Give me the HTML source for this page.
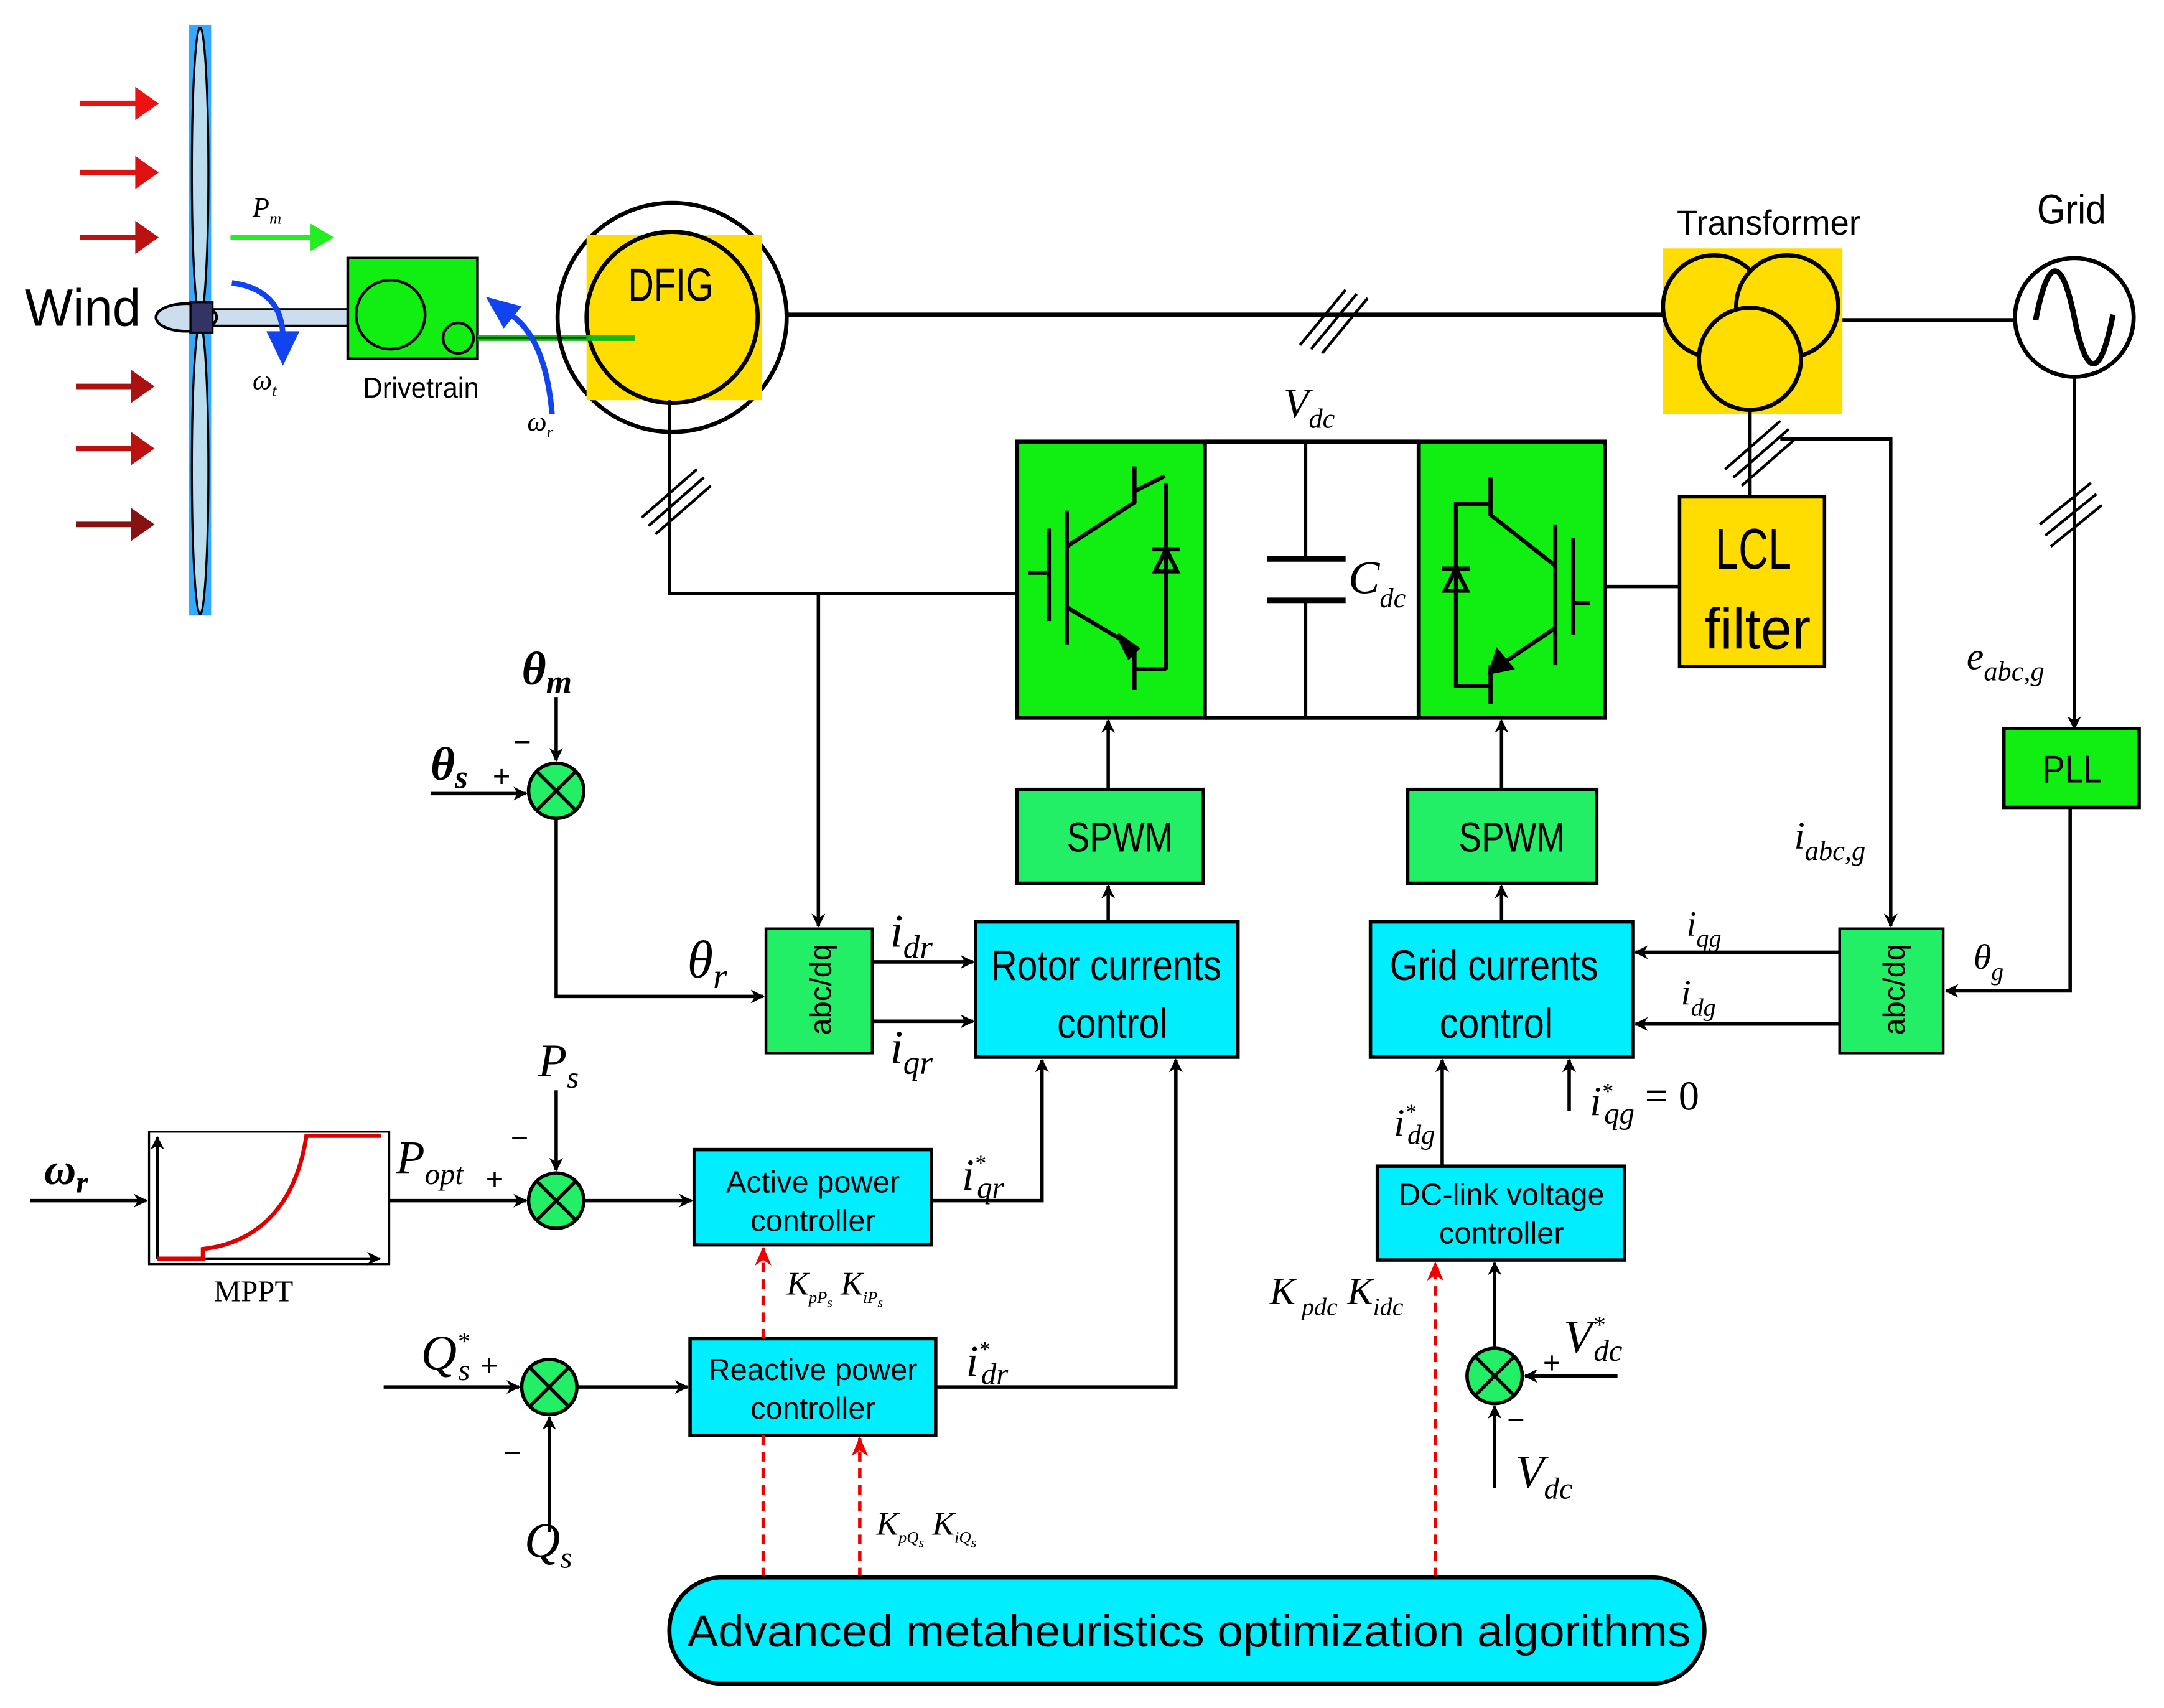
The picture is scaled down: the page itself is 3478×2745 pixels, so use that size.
<!DOCTYPE html>
<html><head><meta charset="utf-8"><style>
html,body{margin:0;padding:0;background:#fff}
svg{display:block}
.t{font-family:"Liberation Sans Narrow","Liberation Sans",sans-serif}
.m{font-family:"Liberation Serif",serif;font-style:italic}
</style></head><body>
<svg width="3478" height="2745" viewBox="0 0 1568 1237.6" preserveAspectRatio="none" xmlns="http://www.w3.org/2000/svg">
<defs>
<marker id="a" markerWidth="10" markerHeight="10" refX="9" refY="5" orient="auto" markerUnits="userSpaceOnUse"><path d="M0,0 L10,5 L0,10 L3,5z" fill="#000"/></marker>
<marker id="r" markerWidth="14" markerHeight="12" refX="13" refY="6" orient="auto" markerUnits="userSpaceOnUse"><path d="M0,0 L14,6 L0,12 L4,6z" fill="#e00"/></marker>
</defs>
<g stroke="#000" stroke-width="2.5" fill="none">
<g stroke-width="4">
<line x1="58" y1="75" x2="105" y2="75" stroke="#e11"/><line x1="58" y1="125" x2="105" y2="125" stroke="#d11"/><line x1="58" y1="172" x2="105" y2="172" stroke="#b11"/>
<line x1="55" y1="280" x2="102" y2="280" stroke="#a11"/><line x1="55" y1="325" x2="102" y2="325" stroke="#b11"/><line x1="55" y1="380" x2="102" y2="380" stroke="#811"/>
</g>
<g stroke="none">
<path d="M98,63 L115,75 L98,87z" fill="#e11"/><path d="M98,113 L115,125 L98,137z" fill="#d11"/><path d="M98,160 L115,172 L98,184z" fill="#b11"/>
<path d="M95,268 L112,280 L95,292z" fill="#a11"/><path d="M95,313 L112,325 L95,337z" fill="#b11"/><path d="M95,368 L112,380 L95,392z" fill="#811"/>
</g>
<rect x="137" y="18" width="16" height="428" fill="#3af" stroke="none"/>
<ellipse cx="145" cy="125" rx="6" ry="105" fill="#bde" stroke="#000" stroke-width="1.5"/>
<ellipse cx="145" cy="340" rx="6" ry="105" fill="#bde" stroke="#000" stroke-width="1.5"/>
<rect x="152" y="224" width="100" height="12" fill="#cde" stroke="#000" stroke-width="1.5"/>
<ellipse cx="135" cy="230" rx="22" ry="10" fill="#cde" stroke="#000" stroke-width="2"/>
<rect x="138" y="219" width="16" height="22" fill="#336" stroke="#000" stroke-width="1.5"/>
<line x1="167" y1="172" x2="230" y2="172" stroke="#2e2" stroke-width="4"/><path d="M225,162 L242,172 L225,182z" fill="#2e2" stroke="none"/>
<path d="M168,205 Q205,210 205,245" stroke="#14e" stroke-width="4"/><path d="M193,240 L205,265 L217,240z" fill="#14e" stroke="none"/>
<rect x="252" y="187" width="94" height="73" fill="#1e1" stroke="#000" stroke-width="2"/>
<circle cx="283" cy="228" r="25" stroke-width="2"/><circle cx="332" cy="245" r="11" stroke-width="2"/>
<line x1="346" y1="245" x2="460" y2="245" stroke="#1b1" stroke-width="4"/><line x1="346" y1="245" x2="460" y2="245" stroke="#000" stroke-width="1"/>
<path d="M400,300 Q395,240 365,225" stroke="#14e" stroke-width="4"/><path d="M352,215 L378,222 L365,238z" fill="#14e" stroke="none"/>
<circle cx="487" cy="230" r="83" stroke-width="3"/>
<rect x="425" y="170" width="127" height="120" fill="#fd0" stroke="none"/>
<circle cx="487" cy="230" r="62" fill="#fd0" stroke-width="3"/>
<line x1="460" y1="245" x2="425" y2="245" stroke="#1b1" stroke-width="4"/>
<line x1="570" y1="228" x2="1205" y2="228" stroke-width="3"/>
<g stroke-width="2"><line x1="942" y1="250" x2="975" y2="210"/><line x1="950" y1="253" x2="983" y2="213"/><line x1="958" y1="256" x2="991" y2="216"/></g>
<rect x="1205" y="180" width="130" height="120" fill="#fd0" stroke="none"/>
<circle cx="1242" cy="222" r="37" fill="#fd0" stroke-width="3"/><circle cx="1295" cy="222" r="37" fill="#fd0" stroke-width="3"/><circle cx="1268" cy="260" r="37" fill="#fd0" stroke-width="3"/>
<line x1="1335" y1="232" x2="1460" y2="232" stroke-width="3"/>
<circle cx="1503" cy="230" r="43" stroke-width="3"/>
<path d="M1475,232 C1485,180 1495,190 1503,230 C1511,270 1521,280 1531,228" stroke-width="4"/>
<line x1="1503" y1="273" x2="1503" y2="528" stroke-width="2.5" marker-end="url(#a)"/>
<g stroke-width="2"><line x1="1478" y1="380" x2="1515" y2="350"/><line x1="1482" y1="388" x2="1519" y2="358"/><line x1="1486" y1="396" x2="1523" y2="366"/></g>
<rect x="1452" y="528" width="98" height="57" fill="#1e1" stroke-width="2.5"/>
<polyline points="1500,585 1500,718 1410,718" marker-end="url(#a)"/>
<line x1="1268" y1="297" x2="1268" y2="360"/>
<g stroke-width="2"><line x1="1250" y1="340" x2="1290" y2="305"/><line x1="1256" y1="346" x2="1296" y2="311"/><line x1="1262" y1="352" x2="1302" y2="317"/></g>
<rect x="1217" y="360" width="105" height="123" fill="#fd0" stroke-width="2.5"/>
<polyline points="1290,318 1370,318 1370,671" marker-end="url(#a)"/>
<line x1="1163" y1="425" x2="1217" y2="425"/>
<line x1="873" y1="320" x2="1028" y2="320" stroke-width="3"/><line x1="873" y1="520" x2="1028" y2="520" stroke-width="3"/>
<line x1="946" y1="320" x2="946" y2="405"/><line x1="946" y1="435" x2="946" y2="520"/>
<line x1="918" y1="405" x2="975" y2="405" stroke-width="4"/><line x1="918" y1="435" x2="975" y2="435" stroke-width="4"/>
<rect x="737" y="320" width="136" height="200" fill="#1e1" stroke-width="3"/>
<rect x="1028" y="320" width="135" height="200" fill="#1e1" stroke-width="3"/>
<g stroke-width="3">
<line x1="760" y1="383" x2="760" y2="450"/><line x1="745" y1="415" x2="760" y2="415"/>
<line x1="773" y1="370" x2="773" y2="467"/>
<polyline points="773,396 822,364 822,338"/><line x1="822" y1="356" x2="844" y2="345"/>
<line x1="845" y1="350" x2="845" y2="485"/><polyline points="822,470 822,500"/><line x1="822" y1="485" x2="845" y2="485"/>
<line x1="773" y1="440" x2="815" y2="465"/>
<path d="M835,398 L855,398 M837,414 L853,414 L845,398z" fill="none"/>
</g>
<path d="M810,460 L824,470 L818,476z" fill="#000" stroke-width="3"/>
<g stroke-width="3">
<line x1="1140" y1="390" x2="1140" y2="460"/><line x1="1140" y1="437" x2="1152" y2="437"/>
<line x1="1127" y1="380" x2="1127" y2="482"/>
<polyline points="1080,346 1080,373 1127,410"/><polyline points="1080,365 1055,365 1055,497 1080,497"/>
<line x1="1080" y1="482" x2="1080" y2="510"/>
<line x1="1127" y1="455" x2="1090" y2="480"/>
<path d="M1045,412 L1065,412 M1047,428 L1063,428 L1055,412z" fill="none"/>
</g>
<path d="M1085,472 L1080,487 L1095,484z" fill="#000" stroke-width="3"/>
<polyline points="485,290 485,430 737,430"/>
<g stroke-width="2"><line x1="465" y1="375" x2="505" y2="340"/><line x1="470" y1="381" x2="510" y2="346"/><line x1="475" y1="387" x2="515" y2="352"/></g>
<line x1="593" y1="430" x2="593" y2="671" marker-end="url(#a)"/>
<rect x="737" y="572" width="135" height="68" fill="#2e6" stroke-width="2.5"/>
<rect x="1020" y="572" width="137" height="68" fill="#2e6" stroke-width="2.5"/>
<line x1="803" y1="572" x2="803" y2="522" marker-end="url(#a)"/><line x1="1088" y1="572" x2="1088" y2="522" marker-end="url(#a)"/>
<line x1="803" y1="668" x2="803" y2="642" marker-end="url(#a)"/><line x1="1088" y1="668" x2="1088" y2="642" marker-end="url(#a)"/>
<rect x="707" y="668" width="190" height="98" fill="#0ef" stroke-width="2.5"/>
<rect x="993" y="668" width="190" height="98" fill="#0ef" stroke-width="2.5"/>
<rect x="555" y="673" width="77" height="90" fill="#2e6" stroke-width="2"/>
<rect x="1333" y="673" width="75" height="90" fill="#2e6" stroke-width="2"/>
<line x1="632" y1="697" x2="705" y2="697" marker-end="url(#a)"/><line x1="632" y1="740" x2="705" y2="740" marker-end="url(#a)"/>
<line x1="1333" y1="690" x2="1185" y2="690" marker-end="url(#a)"/><line x1="1333" y1="742" x2="1185" y2="742" marker-end="url(#a)"/>
<line x1="403" y1="505" x2="403" y2="551" marker-end="url(#a)"/>
<line x1="312" y1="575" x2="381" y2="575" marker-end="url(#a)"/>
<polyline points="403,593 403,722 553,722" marker-end="url(#a)"/>
<g fill="#2e6" stroke-width="2.5">
<circle cx="403" cy="573" r="20"/><circle cx="403" cy="870" r="20"/><circle cx="398" cy="1005" r="20"/><circle cx="1083" cy="997" r="20"/>
</g>
<g stroke-width="2.5">
<path d="M389,559 L417,587 M417,559 L389,587"/><path d="M389,856 L417,884 M417,856 L389,884"/><path d="M384,991 L412,1019 M412,991 L384,1019"/><path d="M1069,983 L1097,1011 M1097,983 L1069,1011"/>
</g>
<rect x="108" y="820" width="174" height="96" stroke-width="1.5"/>
<line x1="114" y1="912" x2="275" y2="912" stroke-width="2" marker-end="url(#a)"/><line x1="114" y1="912" x2="114" y2="824" stroke-width="2" marker-end="url(#a)"/>
<path d="M114,912 L147,912 L147,905 C190,900 215,870 222,823 L276,823" stroke="#d00" stroke-width="3"/>
<line x1="22" y1="870" x2="106" y2="870" marker-end="url(#a)"/>
<line x1="282" y1="870" x2="381" y2="870" marker-end="url(#a)"/>
<line x1="403" y1="790" x2="403" y2="848" marker-end="url(#a)"/>
<line x1="423" y1="870" x2="501" y2="870" marker-end="url(#a)"/>
<rect x="503" y="833" width="172" height="69" fill="#0ef" stroke-width="2.5"/>
<polyline points="675,870 755,870 755,768" marker-end="url(#a)"/>
<line x1="278" y1="1005" x2="376" y2="1005" marker-end="url(#a)"/>
<line x1="398" y1="1110" x2="398" y2="1027" marker-end="url(#a)"/>
<line x1="418" y1="1005" x2="498" y2="1005" marker-end="url(#a)"/>
<rect x="500" y="970" width="178" height="70" fill="#0ef" stroke-width="2.5"/>
<polyline points="678,1005 852,1005 852,768" marker-end="url(#a)"/>
<rect x="998" y="845" width="179" height="68" fill="#0ef" stroke-width="2.5"/>
<line x1="1045" y1="845" x2="1045" y2="768" marker-end="url(#a)"/>
<line x1="1137" y1="805" x2="1137" y2="768" marker-end="url(#a)"/>
<line x1="1083" y1="977" x2="1083" y2="915" marker-end="url(#a)"/>
<line x1="1172" y1="997" x2="1105" y2="997" marker-end="url(#a)"/>
<line x1="1083" y1="1078" x2="1083" y2="1019" marker-end="url(#a)"/>
<g stroke="#e00" stroke-width="2.5" stroke-dasharray="7,5">
<line x1="553" y1="1143" x2="553" y2="1040"/><line x1="553" y1="970" x2="553" y2="904" marker-end="url(#r)"/>
<line x1="623" y1="1143" x2="623" y2="1042" marker-end="url(#r)"/>
<line x1="1040" y1="1143" x2="1040" y2="915" marker-end="url(#r)"/>
</g>
<rect x="485" y="1143" width="750" height="77" rx="38" fill="#0ef" stroke-width="3"/>
</g>
<g class="t" fill="#000" lengthAdjust="spacingAndGlyphs">
<text x="18" y="236" font-size="38" textLength="84" lengthAdjust="spacingAndGlyphs">Wind</text>
<text x="263" y="288" font-size="21" textLength="84" lengthAdjust="spacingAndGlyphs">Drivetrain</text>
<text x="455" y="218" font-size="34" textLength="62" lengthAdjust="spacingAndGlyphs">DFIG</text>
<text x="1215" y="170" font-size="25" textLength="133" lengthAdjust="spacingAndGlyphs">Transformer</text>
<text x="1476" y="162" font-size="30" textLength="50" lengthAdjust="spacingAndGlyphs">Grid</text>
<text x="1243" y="412" font-size="42" textLength="55" lengthAdjust="spacingAndGlyphs">LCL</text>
<text x="1235" y="470" font-size="42" textLength="77" lengthAdjust="spacingAndGlyphs">filter</text>
<text x="1480" y="567" font-size="28" textLength="43" lengthAdjust="spacingAndGlyphs">PLL</text>
<text x="773" y="617" font-size="30" textLength="77" lengthAdjust="spacingAndGlyphs">SPWM</text>
<text x="1057" y="617" font-size="30" textLength="77" lengthAdjust="spacingAndGlyphs">SPWM</text>
<text x="718" y="710" font-size="31" textLength="167" lengthAdjust="spacingAndGlyphs">Rotor currents</text>
<text x="766" y="752" font-size="31" textLength="80" lengthAdjust="spacingAndGlyphs">control</text>
<text x="1007" y="710" font-size="31" textLength="151" lengthAdjust="spacingAndGlyphs">Grid currents</text>
<text x="1043" y="752" font-size="31" textLength="82" lengthAdjust="spacingAndGlyphs">control</text>
<text x="0" y="0" font-size="22" transform="translate(602,750) rotate(-90)">abc/dq</text>
<text x="0" y="0" font-size="22" transform="translate(1380,750) rotate(-90)">abc/dq</text>
</g>
<g font-family="Liberation Sans,sans-serif" fill="#000">
<text x="589" y="864" font-size="22" text-anchor="middle">Active power</text>
<text x="589" y="892" font-size="22" text-anchor="middle">controller</text>
<text x="589" y="1000" font-size="22" text-anchor="middle">Reactive power</text>
<text x="589" y="1028" font-size="22" text-anchor="middle">controller</text>
<text x="1088" y="873" font-size="22" text-anchor="middle">DC-link voltage</text>
<text x="1088" y="901" font-size="22" text-anchor="middle">controller</text>
<text x="498" y="1193" font-size="32" textLength="727" lengthAdjust="spacingAndGlyphs">Advanced metaheuristics optimization algorithms</text>
<text x="155" y="943" font-size="22" font-family="Liberation Serif,serif">MPPT</text>
</g>
<g class="m" fill="#000">
<text x="183" y="157" font-size="20">P<tspan font-size="12" dy="5">m</tspan></text>
<text x="183" y="282" font-size="20">ω<tspan font-size="12" dy="5">t</tspan></text>
<text x="382" y="312" font-size="20">ω<tspan font-size="12" dy="5">r</tspan></text>
<text x="930" y="302" font-size="30">V<tspan font-size="20" dy="8">dc</tspan></text>
<text x="977" y="430" font-size="34">C<tspan font-size="20" dy="10">dc</tspan></text>
<text x="1425" y="485" font-size="28">e<tspan font-size="20" dy="8">abc,g</tspan></text>
<text x="1300" y="615" font-size="28">i<tspan font-size="20" dy="8">abc,g</tspan></text>
<text x="1430" y="702" font-size="26">θ<tspan font-size="18" dy="8">g</tspan></text>
<text x="1222" y="678" font-size="26">i<tspan font-size="18" dy="8">qg</tspan></text>
<text x="1218" y="728" font-size="26">i<tspan font-size="18" dy="8">dg</tspan></text>
<text x="645" y="686" font-size="34">i<tspan font-size="24" dy="8">dr</tspan></text>
<text x="645" y="770" font-size="34">i<tspan font-size="24" dy="8">qr</tspan></text>
<text x="378" y="496" font-size="34" font-weight="bold">θ<tspan font-size="24" dy="6">m</tspan></text>
<text x="312" y="565" font-size="34" font-weight="bold">θ<tspan font-size="24" dy="6">s</tspan></text>
<text x="498" y="708" font-size="38">θ<tspan font-size="26" dy="8">r</tspan></text>
<text x="390" y="780" font-size="34">P<tspan font-size="22" dy="8">s</tspan></text>
<text x="32" y="858" font-size="32" font-weight="bold">ω<tspan font-size="22" dy="6">r</tspan></text>
<text x="287" y="850" font-size="34">P<tspan font-size="22" dy="8">opt</tspan></text>
<text x="697" y="862" font-size="32">i<tspan font-size="16" dy="-14">*</tspan><tspan font-size="22" dx="-6" dy="20">qr</tspan></text>
<text x="700" y="997" font-size="32">i<tspan font-size="16" dy="-14">*</tspan><tspan font-size="22" dx="-6" dy="20">dr</tspan></text>
<text x="305" y="992" font-size="36">Q<tspan font-size="18" dy="-14">*</tspan><tspan font-size="22" dx="-8" dy="22">s</tspan></text>
<text x="380" y="1128" font-size="36">Q<tspan font-size="22" dy="8">s</tspan></text>
<text x="570" y="938" font-size="24">K<tspan font-size="12" dy="6">pP</tspan><tspan font-size="10" dy="3">s</tspan><tspan dy="-9"> K</tspan><tspan font-size="12" dy="6">iP</tspan><tspan font-size="10" dy="3">s</tspan></text>
<text x="635" y="1112" font-size="24">K<tspan font-size="12" dy="6">pQ</tspan><tspan font-size="10" dy="3">s</tspan><tspan dy="-9"> K</tspan><tspan font-size="12" dy="6">iQ</tspan><tspan font-size="10" dy="3">s</tspan></text>
<text x="920" y="945" font-size="28">K<tspan font-size="18" dy="8"> pdc</tspan><tspan dy="-8"> K</tspan><tspan font-size="18" dy="8">idc</tspan></text>
<text x="1010" y="823" font-size="28">i<tspan font-size="16" dy="-12">*</tspan><tspan font-size="20" dx="-6" dy="18">dg</tspan></text>
<text x="1152" y="808" font-size="30">i<tspan font-size="16" dy="-12">*</tspan><tspan font-size="22" dx="-6" dy="18">qg</tspan><tspan font-style="normal" dy="-10"> = 0</tspan></text>
<text x="1133" y="980" font-size="34">V<tspan font-size="18" dy="-14">*</tspan><tspan font-size="22" dx="-8" dy="20">dc</tspan></text>
<text x="1098" y="1078" font-size="34">V<tspan font-size="22" dy="8">dc</tspan></text>
</g>
<g font-family="Liberation Sans,sans-serif" font-size="22" fill="#000">
<text x="372" y="545">−</text><text x="357" y="570">+</text>
<text x="370" y="832">−</text><text x="352" y="862">+</text>
<text x="348" y="997">+</text><text x="365" y="1060">−</text>
<text x="1118" y="995">+</text><text x="1092" y="1036">−</text>
</g>
</svg>
</body></html>
